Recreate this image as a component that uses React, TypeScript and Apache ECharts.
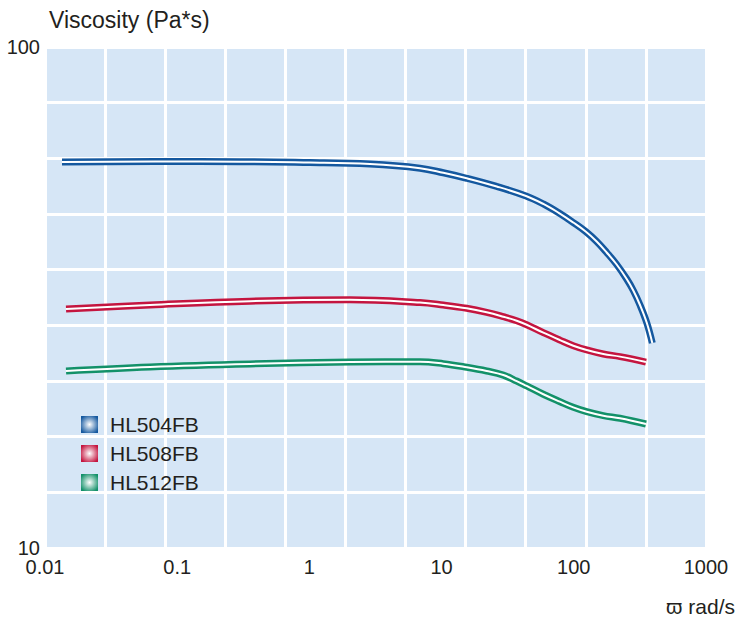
import React, { useEffect, useRef } from "react";
import * as echarts from "echarts";

// ---- data ----
const seriesNames = ["HL504FB", "HL508FB", "HL512FB"];
const seriesColors = ["#14589f", "#c4153f", "#139169"];

const freqBlue = [0.01345, 0.1488, 1.01, 2.873, 6.865, 10.3, 15.49, 26.12, 43.5, 58.8, 76.3, 99.1, 123.0, 149.0, 177.4, 211.1, 251.3, 281.9, 316.8, 355.9, 392.5];
const viscBlue = [58.95, 59.1, 58.8, 58.4, 57.3, 56.1, 54.7, 52.68, 50.42, 48.61, 46.72, 44.63, 42.83, 40.91, 38.89, 36.8, 34.43, 32.66, 30.55, 28.19, 25.66];

const freqRed = [0.01442, 0.0623, 0.3555, 2.028, 6.865, 10.3, 15.49, 21.93, 29.29, 37.0, 44.0, 58.8, 78.6, 99.1, 125.2, 167.2, 223.6, 351.7];
const viscRed = [30.0, 30.55, 31.1, 31.3, 30.9, 30.55, 30.1, 29.54, 28.95, 28.42, 27.9, 26.9, 26.0, 25.34, 24.85, 24.39, 24.1, 23.5];

const freqGreen = [0.01442, 0.0623, 0.3555, 2.028, 6.865, 10.3, 15.49, 21.93, 29.29, 37.0, 44.0, 58.8, 78.6, 99.1, 125.2, 167.2, 223.6, 351.7];
const viscGreen = [22.56, 22.98, 23.3, 23.5, 23.54, 23.33, 22.95, 22.56, 22.14, 21.54, 21.06, 20.27, 19.59, 19.09, 18.71, 18.37, 18.15, 17.68];

const xTickLabels = ["0.01", "0.1", "1", "10", "100", "1000"];
const yTickLabels = ["10", "100"];

const FONT = "'Liberation Sans', Arial, Helvetica, sans-serif";
const TEXT = "#231f20";

function zip(xs: number[], ys: number[]) {
  return xs.map((x, i) => [x, ys[i]]);
}

export default function App() {
  const ref = useRef<HTMLDivElement>(null);
  useEffect(() => {
    document.body.style.margin = "0";
    if (!ref.current) return;
    const chart = echarts.init(ref.current, undefined, { renderer: "svg" });
    const datasets = [zip(freqBlue, viscBlue), zip(freqRed, viscRed), zip(freqGreen, viscGreen)];

    const series: any[] = [];
    datasets.forEach((d, i) => {
      series.push({
        name: seriesNames[i],
        type: "line",
        xAxisIndex: 0,
        yAxisIndex: 0,
        data: d,
        smooth: 0.4,
        symbol: "none",
        silent: true,
        lineStyle: { color: seriesColors[i], width: 7 },
        itemStyle: { color: seriesColors[i] },
        z: 3,
      });
      series.push({
        name: seriesNames[i] + "-inner",
        type: "line",
        xAxisIndex: 0,
        yAxisIndex: 0,
        data: d,
        smooth: 0.4,
        symbol: "none",
        silent: true,
        lineStyle: { color: "#ffffff", width: 2 },
        itemStyle: { color: "#ffffff" },
        z: 4,
      });
    });

    const grad = (c: string) =>
      new echarts.graphic.RadialGradient(0.5, 0.5, 0.6, [
        { offset: 0, color: "#ffffff" },
        { offset: 1, color: c },
      ]);

    chart.setOption({
      animation: false,
      title: [
        {
          text: "Viscosity (Pa*s)",
          left: 44,
          top: 3,
          textStyle: { fontSize: 23, fontWeight: "normal", color: TEXT, fontFamily: FONT },
        },
        {
          text: "ϖ rad/s",
          right: -2,
          top: 591,
          textStyle: { fontSize: 21, fontWeight: "normal", color: TEXT, fontFamily: FONT },
        },
      ],
      legend: {
        orient: "vertical",
        left: 76,
        top: 409,
        itemWidth: 17,
        itemHeight: 17,
        itemGap: 8,
        icon: "rect",
        selectedMode: false,
        textStyle: { fontSize: 21, color: TEXT, fontFamily: FONT, padding: [0, 0, 0, 7] },
        data: seriesNames.map((n, i) => ({ name: n, icon: "rect", itemStyle: { color: grad(seriesColors[i]) } })),
      },
      grid: {
        left: 45,
        top: 47,
        width: 661,
        height: 501,
        show: true,
        backgroundColor: "#d6e6f6",
        borderWidth: 0,
      },
      xAxis: [
        {
          type: "log",
          logBase: 10,
          min: 0.01,
          max: 1000,
          axisLine: { show: false },
          axisTick: { show: false },
          splitLine: { show: false },
          axisLabel: {
            margin: 9,
            fontSize: 20,
            color: TEXT,
            fontFamily: FONT,
            formatter: (_v: number, idx: number) => xTickLabels[idx] ?? "",
          },
        },
        {
          type: "value",
          min: 0,
          max: 11,
          interval: 1,
          axisLine: { show: false },
          axisTick: { show: false },
          axisLabel: { show: false },
          splitLine: { show: true, lineStyle: { color: "#ffffff", width: 3 } },
        },
      ],
      yAxis: [
        {
          type: "log",
          logBase: 10,
          min: 10,
          max: 100,
          axisLine: { show: false },
          axisTick: { show: false },
          splitLine: { show: false },
          axisLabel: {
            margin: 5,
            fontSize: 20,
            color: TEXT,
            fontFamily: FONT,
            formatter: (_v: number, idx: number) => yTickLabels[idx] ?? "",
          },
        },
        {
          type: "value",
          min: 0,
          max: 9,
          interval: 1,
          axisLine: { show: false },
          axisTick: { show: false },
          axisLabel: { show: false },
          splitLine: { show: true, lineStyle: { color: "#ffffff", width: 3 } },
        },
      ],
      series,
    });
    return () => chart.dispose();
  }, []);
  return <div ref={ref} style={{ width: 738, height: 617 }} />;
}
